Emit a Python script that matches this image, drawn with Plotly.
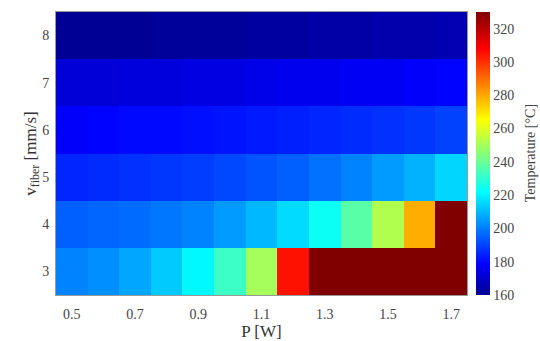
import plotly.graph_objects as go

power = [0.5, 0.6, 0.7, 0.8, 0.9, 1.0, 1.1, 1.2, 1.3, 1.4, 1.5, 1.6, 1.7]
speed = [3, 4, 5, 6, 7, 8]

temp_v3 = [201, 203, 207, 213, 221, 232, 250, 305, 345, 350, 355, 360, 365]
temp_v4 = [195, 196, 197, 199, 201, 205, 210, 216, 224, 237, 252, 279, 345]
temp_v5 = [185, 186, 187, 188, 189, 191, 193, 195, 198, 201, 205, 209, 215]
temp_v6 = [178, 179, 180, 180, 181, 182, 183, 184, 185, 186, 187, 188, 190]
temp_v7 = [172, 172, 173, 173, 174, 174, 175, 176, 176, 177, 177, 178, 179]
temp_v8 = [161, 161, 161, 162, 162, 162, 163, 163, 164, 164, 165, 165, 166]

z = [temp_v3, temp_v4, temp_v5, temp_v6, temp_v7, temp_v8]

cb_ticks = [160, 180, 200, 220, 240, 260, 280, 300, 320]
x_ticks = [0.5, 0.7, 0.9, 1.1, 1.3, 1.5, 1.7]

jet = [
    [0.0, "rgb(0,0,143)"],
    [0.11, "rgb(0,0,255)"],
    [0.365, "rgb(0,255,255)"],
    [0.62, "rgb(255,255,0)"],
    [0.87, "rgb(255,0,0)"],
    [1.0, "rgb(128,0,0)"],
]

tick_font = dict(family="Liberation Serif", size=14, color="#444")
title_font = dict(family="Liberation Serif", size=17, color="#333")
cb_title_font = dict(family="Liberation Serif", size=14, color="#444")

fig = go.Figure(
    go.Heatmap(
        x=power, y=speed, z=z,
        zmin=160, zmax=330,
        colorscale=jet,
        colorbar=dict(
            x=1.022, xanchor="left", xpad=0, ypad=0,
            y=0, yanchor="bottom", len=1, lenmode="fraction",
            thickness=14, outlinewidth=0,
            tickvals=cb_ticks, ticks="", ticklen=0,
            tickfont=tick_font,
        ),
    )
)

fig.add_annotation(
    text="Temperature [°C]", xref="paper", yref="paper",
    x=1.155, y=0.5, xanchor="center", yanchor="middle",
    textangle=-90, showarrow=False, font=cb_title_font,
)

fig.update_layout(
    width=540, height=341,
    margin=dict(l=56, r=73, t=12, b=46, autoexpand=False),
    paper_bgcolor="white", plot_bgcolor="white",
    font=tick_font,
)
fig.update_xaxes(
    tickvals=x_ticks, ticktext=[f"{v:.1f}" for v in x_ticks],
    range=[0.45, 1.75], ticks="", ticklen=0, showgrid=False, zeroline=False,
    showline=True, linecolor="#999", linewidth=1, mirror=True,
    tickfont=tick_font, ticklabelstandoff=6,
    title=dict(text="P [W]", font=title_font, standoff=6),
)
fig.update_yaxes(
    tickvals=speed, range=[2.5, 8.5], ticks="", ticklen=0, showgrid=False, zeroline=False,
    showline=True, linecolor="#999", linewidth=1, mirror=True,
    tickfont=tick_font, ticklabelstandoff=3,
    title=dict(text="v<sub>fiber</sub> [mm/s]", font=title_font, standoff=1),
)

fig.write_html(
    "out.html",
    config={"displayModeBar": False},
    post_script="document.body.style.margin='0px';document.body.style.overflow='hidden';",
)
